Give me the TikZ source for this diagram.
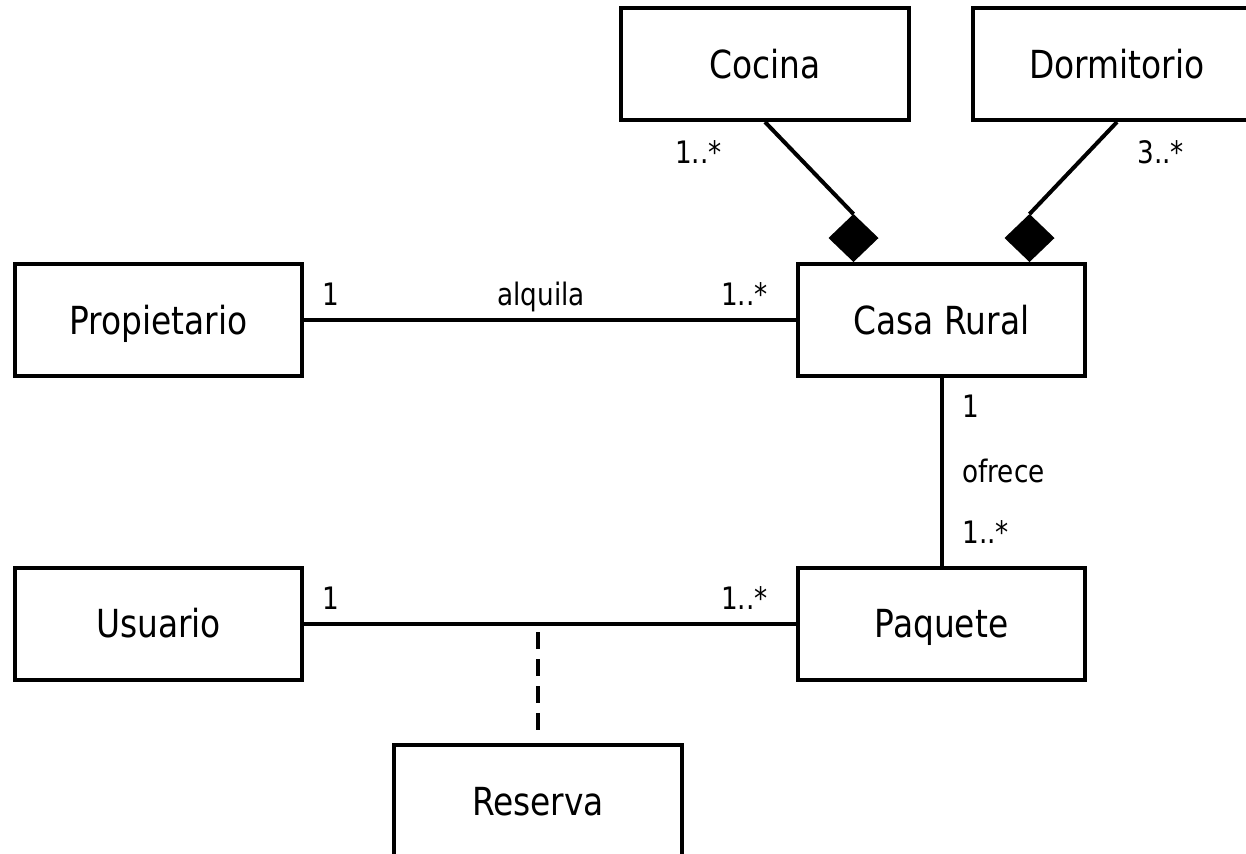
\documentclass[tikz,border=0pt]{standalone}
\usepackage{fontspec}
\setmainfont[FakeStretch=0.85]{DejaVu Sans}
\usetikzlibrary{positioning, shapes.geometric, calc}

\tikzset{
  klass/.style={draw, line width=0.08cm, minimum width=5.76cm, minimum height=2.24cm,
    inner sep=0pt, font=\fontsize{22}{26}\selectfont, text height=16pt, text depth=0pt},
  comp/.style={diamond, fill=black, inner sep=0pt, outer sep=0pt,
    minimum width=1cm, minimum height=0.96cm},
  assoc/.style={line width=0.08cm},
  mult/.style={inner sep=0pt, font=\fontsize{17.6}{21}\selectfont},
}

\begin{document}
\begin{tikzpicture}[x=0.02cm, y=-0.02cm]
  \useasboundingbox (0,0) rectangle (1246,853);
  \fill[white] (0,0) rectangle (1246,853);
  \clip (0,0) rectangle (1246,853);

  \node[klass] (cocina) at (765,64) {Cocina};
  \node[klass] (dormitorio) at (1117,64) {Dormitorio};
  \node[klass] (propietario) at (158.5,320) {Propietario};
  \node[klass] (casa) at (941.5,320) {Casa Rural};
  \node[klass] (usuario) at (158.5,623.5) {Usuario};
  \node[klass] (paquete) at (941.5,623.5) {Paquete};
  \node[klass] (reserva) at (538,801) {Reserva};

  \node[comp, anchor=south] (dcocina) at ($(casa.north)+(-88,0)$) {};
  \node[comp, anchor=south] (ddormitorio) at ($(casa.north)+(88,0)$) {};
  \coordinate (enlace) at (reserva.north |- usuario.east);

  \draw[assoc] (cocina.south) -- (dcocina.north);
  \draw[assoc] (dormitorio.south) -- (ddormitorio.north);
  \draw[assoc] (propietario) -- (casa);
  \draw[assoc] (casa) -- (paquete);
  \draw[assoc] (usuario) -- (paquete);
  \draw[assoc, dash pattern=on 0.34cm off 0.2cm, shorten <=0.17cm, shorten >=0.24cm] (enlace) -- (reserva.north);

  \node[mult, anchor=base east] (mcocina) at (722,163) {1..*};
  \node[mult, anchor=base west] (mdormitorio) at (1137,163) {3..*};
  \node[mult, anchor=base west] (mprop) at (322,305) {1};
  \node[mult, anchor=base] (alquila) at (541,305) {alquila};
  \node[mult, anchor=base east] (mcasa) at (768,305) {1..*};
  \node[mult, anchor=base west] (mofrece1) at (962,417) {1};
  \node[mult, anchor=base west] (ofrece) at (962,482) {ofrece};
  \node[mult, anchor=base west] (mofrece2) at (962,543) {1..*};
  \node[mult, anchor=base west] (musuario) at (322,609) {1};
  \node[mult, anchor=base east] (mpaquete) at (768,609) {1..*};
\end{tikzpicture}
\end{document}
